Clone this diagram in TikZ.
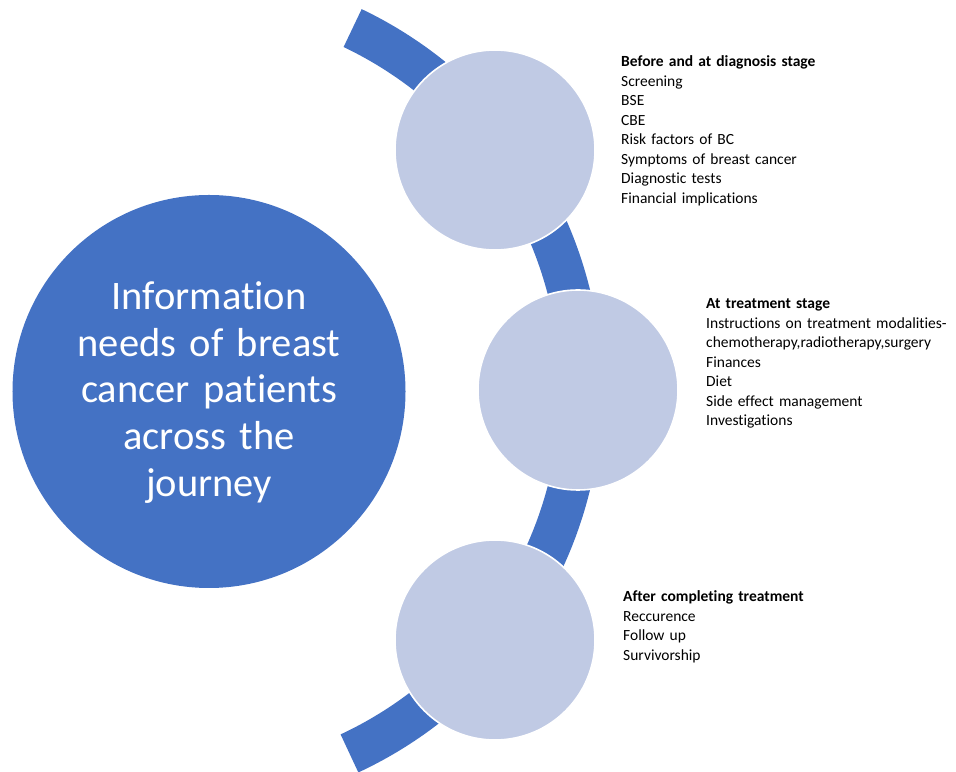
\documentclass[tikz,border=0pt]{standalone}
\usepackage{fontspec}
\setmainfont{Carlito}[RawFeature={-liga;-clig;-calt;-dlig}]
\usetikzlibrary{calc}

\definecolor{hubblue}{HTML}{4472C4}
\definecolor{stagefill}{HTML}{C0CAE4}

\tikzset{
  hub/.style={circle, fill=hubblue, minimum size=393bp, inner sep=0pt},
  hubtext/.style={text=white, align=center, text width=380bp, inner sep=0pt,
    font=\fontsize{40.5bp}{46.8bp}\selectfont},
  stagedot/.style={circle, fill=stagefill, draw=white, line width=1.6bp,
    minimum size=200bp, inner sep=0pt},
  notes/.style={align=left, text width=300bp, inner sep=0pt, anchor=base west,
    font=\fontsize{15.5bp}{19.5bp}\selectfont},
  band/.style={fill=hubblue}
}

\begin{document}
\begin{tikzpicture}[x=1bp, y=1bp]
  \useasboundingbox (0,0) rectangle (956,772);

  % curved band behind the stage circles
  \coordinate (arcc) at (180,382);
  \fill[band] ($(arcc)+(-65:422)$) arc[start angle=-65, end angle=64.5, radius=422]
    -- ($(arcc)+(64.5:380)$) arc[start angle=64.5, end angle=-65, radius=380] -- cycle;

  % central circle
  \node[hub] (hub) at (209,380.5) {};
  \node[hubtext, anchor=base] (hublabel) at (209,462.7)
    {Information\\ needs of breast\\ cancer patients\\ across the\\ journey};

  % stage circles on the band
  \node[stagedot] (stageA) at (495,622) {};
  \node[stagedot] (stageB) at (578,382) {};
  \node[stagedot] (stageC) at (495,132) {};

  % stage notes
  \node[notes] (notesA) at (621,705.3)
    {\textbf{Before and at diagnosis stage}\\
     Screening\\ BSE\\ CBE\\ Risk factors of BC\\ Symptoms of breast cancer\\
     Diagnostic tests\\ Financial implications};
  \node[notes] (notesB) at (706,463)
    {\textbf{At treatment stage}\\
     Instructions on treatment modalities-\\
     chemotherapy,radiotherapy,surgery\\
     Finances\\ Diet\\ Side effect management\\ Investigations};
  \node[notes] (notesC) at (623,170)
    {\textbf{After completing treatment}\\
     Reccurence\\ Follow up\\ Survivorship};
\end{tikzpicture}
\end{document}
